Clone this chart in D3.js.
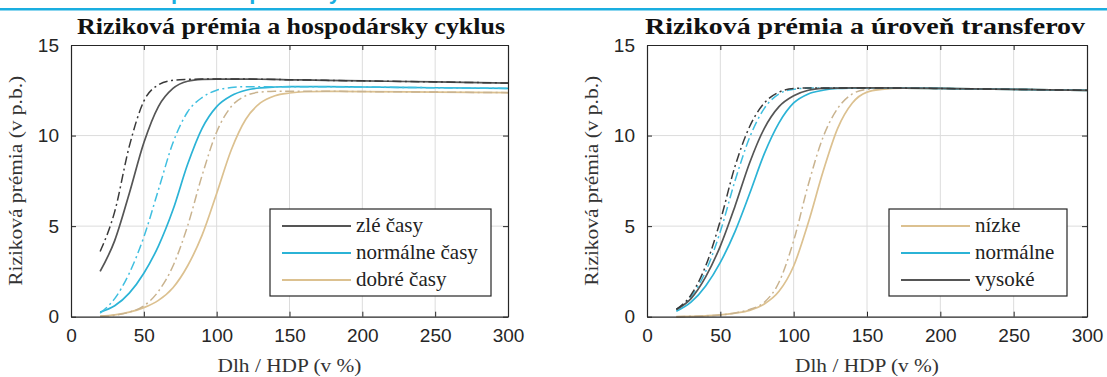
<!DOCTYPE html>
<html>
<head>
<meta charset="utf-8">
<script src="https://cdn.jsdelivr.net/npm/d3@7"></script>
<style>
  body { margin: 0; background: #fff; }
  svg { display: block; }
</style>
</head>
<body>
<div id="chart"></div>
<script>
// debt / GDP grid (v %)
const debtRatio = [20, 30, 40, 50, 60, 70, 80, 90, 100, 110, 120, 130, 140, 150, 160, 175, 200, 250, 300];

// left panel: business cycle
const cycleBadSolid  = [2.5, 4.2, 6.8, 9.6, 11.6, 12.6, 13.0, 13.1, 13.12, 13.12, 13.12, 13.11, 13.1, 13.08, 13.07, 13.05, 13.02, 12.96, 12.9];
const cycleBadDash   = [3.6, 5.8, 9.4, 11.9, 12.8, 13.05, 13.1, 13.12, 13.12, 13.12, 13.12, 13.11, 13.1, 13.08, 13.07, 13.05, 13.02, 12.96, 12.9];
const cycleNormSolid = [0.25, 0.6, 1.3, 2.4, 3.9, 5.9, 8.4, 10.4, 11.6, 12.2, 12.5, 12.63, 12.68, 12.7, 12.7, 12.7, 12.68, 12.64, 12.6];
const cycleNormDash  = [0.2, 1.0, 2.4, 4.4, 7.0, 9.6, 11.3, 12.1, 12.5, 12.65, 12.7, 12.7, 12.7, 12.7, 12.7, 12.7, 12.68, 12.64, 12.6];
const cycleGoodSolid = [0.03, 0.1, 0.25, 0.5, 0.9, 1.6, 2.8, 4.5, 6.8, 9.2, 10.9, 11.8, 12.2, 12.35, 12.42, 12.44, 12.43, 12.4, 12.37];
const cycleGoodDash  = [0.02, 0.08, 0.25, 0.6, 1.4, 2.8, 5.0, 7.8, 10.2, 11.6, 12.2, 12.4, 12.44, 12.45, 12.45, 12.45, 12.43, 12.4, 12.37];

// right panel: level of transfers
const transLowSolid  = [0.0, 0.02, 0.05, 0.1, 0.2, 0.35, 0.7, 1.4, 2.8, 5.2, 8.0, 10.4, 11.8, 12.4, 12.55, 12.62, 12.6, 12.55, 12.5];
const transLowDash   = [0.0, 0.02, 0.05, 0.1, 0.2, 0.4, 0.8, 1.9, 4.2, 7.3, 9.9, 11.5, 12.3, 12.55, 12.6, 12.62, 12.6, 12.55, 12.5];
const transNormSolid = [0.3, 0.8, 1.7, 3.0, 4.7, 6.8, 9.0, 10.7, 11.8, 12.3, 12.5, 12.6, 12.62, 12.63, 12.63, 12.62, 12.6, 12.55, 12.5];
const transNormDash  = [0.4, 1.1, 2.5, 4.7, 7.5, 9.9, 11.5, 12.3, 12.55, 12.62, 12.63, 12.63, 12.63, 12.63, 12.63, 12.62, 12.6, 12.55, 12.5];
const transHighSolid = [0.4, 1.0, 2.2, 3.9, 6.1, 8.5, 10.4, 11.6, 12.2, 12.5, 12.6, 12.62, 12.63, 12.63, 12.63, 12.62, 12.6, 12.55, 12.5];
const transHighDash  = [0.4, 1.2, 2.8, 5.3, 8.3, 10.5, 11.8, 12.4, 12.6, 12.63, 12.63, 12.63, 12.63, 12.63, 12.63, 12.62, 12.6, 12.55, 12.5];

const xTicks = [0, 50, 100, 150, 200, 250, 300];
const yTicks = [0, 5, 10, 15];
const cycleLabels = ['zlé časy', 'normálne časy', 'dobré časy'];
const transLabels = ['nízke', 'normálne', 'vysoké'];

const GRAY = '#555555', GRAY_D = '#3a3a3a';
const CYAN = '#2bb3d6', CYAN_D = '#3fbfe0';
const TAN = '#dcc190', TAN_D = '#c9b38f';

const SERIF = "'Liberation Serif', 'Times New Roman', serif";
const SANS = "'Liberation Sans', Arial, sans-serif";

const W = 1107, H = 377;
const svg = d3.select('#chart').append('svg').attr('width', W).attr('height', H);
svg.append('rect').attr('width', W).attr('height', H).attr('fill', '#fff');

// cut-off heading strip at the very top
svg.append('text')
  .attr('x', 6).attr('y', -1)
  .attr('font-family', SANS)
  .attr('font-weight', 'bold').attr('font-size', 22).attr('fill', '#1aaee0')
  .text('Graf 4 Riziková prémia podľa cyklu a úrovne transferov');
svg.append('rect').attr('x', 0).attr('y', 8).attr('width', W).attr('height', 2.5).attr('fill', '#1aaee0');

const y = d3.scaleLinear().domain([0, 15]).range([316.7, 45]);

function drawPanel(cfg) {
  const x = d3.scaleLinear().domain([0, 300]).range([cfg.left, cfg.right]);
  const g = svg.append('g');
  const [top, bottom] = y.range().slice().reverse();

  // grid
  g.selectAll('.gx').data(xTicks.slice(1, -1)).enter().append('line')
    .attr('x1', d => x(d)).attr('x2', d => x(d)).attr('y1', top).attr('y2', bottom)
    .attr('stroke', '#dcdcdc').attr('stroke-width', 1);
  g.selectAll('.gy').data(yTicks.slice(1, -1)).enter().append('line')
    .attr('x1', cfg.left).attr('x2', cfg.right).attr('y1', d => y(d)).attr('y2', d => y(d))
    .attr('stroke', '#dcdcdc').attr('stroke-width', 1);

  // curves
  const line = d3.line().x(d => x(d[0])).y(d => y(d[1])).curve(d3.curveMonotoneX);
  cfg.series.forEach(s => {
    g.append('path')
      .attr('d', line(debtRatio.map((v, i) => [v, s.values[i]])))
      .attr('fill', 'none').attr('stroke', s.color)
      .attr('stroke-width', s.dash ? 1.5 : 1.7)
      .attr('stroke-dasharray', s.dash ? '9,3.5,2,3.5' : null);
  });

  // axes (box with inward ticks on all sides)
  const tickLen = 5;
  const axB = g.append('g').attr('transform', `translate(0,${bottom})`)
    .call(d3.axisBottom(x).tickValues(xTicks).tickSize(-tickLen).tickPadding(12).tickSizeOuter(0));
  const axT = g.append('g').attr('transform', `translate(0,${top})`)
    .call(d3.axisTop(x).tickValues(xTicks).tickSize(-tickLen).tickFormat('').tickSizeOuter(0));
  const axL = g.append('g').attr('transform', `translate(${cfg.left},0)`)
    .call(d3.axisLeft(y).tickValues(yTicks).tickSize(-tickLen).tickPadding(12).tickSizeOuter(0));
  const axR = g.append('g').attr('transform', `translate(${cfg.right},0)`)
    .call(d3.axisRight(y).tickValues(yTicks).tickSize(-tickLen).tickFormat('').tickSizeOuter(0));
  [axB, axT, axL, axR].forEach(a => {
    a.select('.domain').attr('stroke', '#262626').attr('stroke-width', 1.2);
    a.selectAll('.tick line').attr('stroke', '#262626');
    a.selectAll('.tick text').attr('fill', '#262626')
      .attr('font-family', SANS).attr('font-size', 19);
  });

  // titles and labels
  svg.append('text')
    .attr('x', cfg.titleX).attr('y', 34).attr('text-anchor', 'middle')
    .attr('font-family', SERIF)
    .attr('font-weight', 'bold').attr('font-size', 24).attr('fill', '#111')
    .attr('textLength', cfg.titleLen).attr('lengthAdjust', 'spacingAndGlyphs')
    .text(cfg.title);
  svg.append('text')
    .attr('transform', `translate(${cfg.left - 49},${(top + bottom) / 2}) rotate(-90)`)
    .attr('text-anchor', 'middle')
    .attr('font-family', SERIF)
    .attr('font-size', 19).attr('fill', '#333')
    .attr('textLength', 210).attr('lengthAdjust', 'spacingAndGlyphs')
    .text('Riziková prémia (v p.b.)');
  svg.append('text')
    .attr('x', (cfg.left + cfg.right) / 2).attr('y', 372).attr('text-anchor', 'middle')
    .attr('font-family', SERIF)
    .attr('font-size', 19).attr('fill', '#333')
    .attr('textLength', 144).attr('lengthAdjust', 'spacingAndGlyphs')
    .text('Dlh / HDP (v %)');

  // legend
  const lg = svg.append('g');
  const bx = cfg.right - cfg.legendInset - cfg.legendWidth;
  lg.append('rect')
    .attr('x', bx).attr('y', 209).attr('width', cfg.legendWidth).attr('height', 87)
    .attr('fill', '#fff').attr('stroke', '#262626').attr('stroke-width', 1.2);
  cfg.legend.forEach((e, i) => {
    const ly = 226 + i * 27;
    lg.append('line')
      .attr('x1', bx + 12).attr('x2', bx + 81).attr('y1', ly).attr('y2', ly)
      .attr('stroke', e.color).attr('stroke-width', 2);
    lg.append('text')
      .attr('x', bx + 86).attr('y', ly + 6)
      .attr('font-family', SERIF)
      .attr('font-size', 21).attr('fill', '#222')
      .text(e.label);
  });
}

drawPanel({
  left: 71, right: 508,
  title: 'Riziková prémia a hospodársky cyklus', titleX: 291, titleLen: 428,
  series: [
    { values: cycleGoodSolid, color: TAN },
    { values: cycleGoodDash, color: TAN_D, dash: true },
    { values: cycleNormSolid, color: CYAN },
    { values: cycleNormDash, color: CYAN_D, dash: true },
    { values: cycleBadSolid, color: GRAY },
    { values: cycleBadDash, color: GRAY_D, dash: true }
  ],
  legend: [
    { label: cycleLabels[0], color: GRAY },
    { label: cycleLabels[1], color: CYAN },
    { label: cycleLabels[2], color: TAN }
  ],
  legendWidth: 221, legendInset: 17
});

drawPanel({
  left: 647, right: 1087,
  title: 'Riziková prémia a úroveň transferov', titleX: 865, titleLen: 440,
  series: [
    { values: transLowSolid, color: TAN },
    { values: transLowDash, color: TAN_D, dash: true },
    { values: transNormSolid, color: CYAN },
    { values: transNormDash, color: CYAN_D, dash: true },
    { values: transHighSolid, color: GRAY },
    { values: transHighDash, color: GRAY_D, dash: true }
  ],
  legend: [
    { label: transLabels[0], color: TAN },
    { label: transLabels[1], color: CYAN },
    { label: transLabels[2], color: GRAY }
  ],
  legendWidth: 178, legendInset: 20
});
</script>
</body>
</html>
